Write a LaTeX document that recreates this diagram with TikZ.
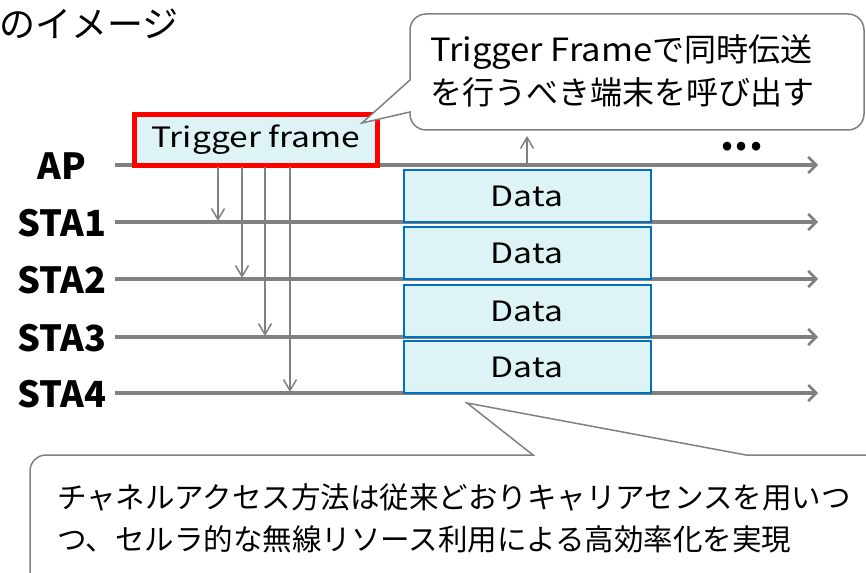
\documentclass[tikz,border=0pt]{standalone}
\usepackage{fontspec}
\setmainfont{Noto Sans CJK JP}
\newfontfamily\widefont{Noto Sans CJK JP}[FakeStretch=1.2]
\newfontfamily\midfont{Noto Sans CJK JP}[FakeStretch=1.08]
\usetikzlibrary{arrows.meta}
\definecolor{lgray}{RGB}{128,128,128}
\definecolor{dblue}{RGB}{0,112,192}
\definecolor{lcyan}{RGB}{222,243,246}
\tikzset{
  timeline/.style={draw=lgray,line width=4,-{Straight Barb[length=8,width=16,line width=2.5]}},
  sig/.style={draw=lgray,line width=2,-{Straight Barb[length=11,width=13,line width=1.5]}},
  databox/.style={draw=dblue,line width=2,fill=lcyan,minimum width=247,minimum height=52,inner sep=0,font=\widefont\fontsize{28}{30}\selectfont},
  trigbox/.style={draw=red,line width=4.5,fill=lcyan,minimum width=243,minimum height=51,inner sep=0,font=\widefont\fontsize{28}{30}\selectfont},
  lab/.style={font=\bfseries\fontsize{36}{40}\selectfont,inner sep=0},
  callout/.style={draw=lgray,line width=1.5,fill=white},
  ctext/.style={inner sep=0,anchor=west,align=left},
}
\begin{document}
\begin{tikzpicture}[x=1pt,y=-1pt]
\useasboundingbox (0,0) rectangle (866,572);
\clip (0,0) rectangle (866,572);
% title
\node[ctext,font=\fontsize{36}{38}\selectfont] (title) at (-1,24) {のイメージ};
% timelines
\foreach \n/\y/\t in {ap/165/AP,s1/222/STA1,s2/279/STA2,s3/337/STA3,s4/393/STA4}{
  \coordinate (\n L) at (115,\y);
  \coordinate (\n R) at (818,\y);
  \node[lab] (\n lab) at (62,\y+1) {\t};
  \draw[timeline] (\n L) -- (\n R);
}
% trigger frame
\node[trigbox] (tf) at (256,140) {Trigger frame};
% data boxes
\node[databox] (d1) at (527,196) {Data};
\node[databox] (d2) at (527,253) {Data};
\node[databox] (d3) at (527,311) {Data};
\node[databox] (d4) at (527,367) {Data};
% signals from trigger frame
\coordinate (t1) at (218,167); \coordinate (e1) at (218,221);
\coordinate (t2) at (242,167); \coordinate (e2) at (242,278);
\coordinate (t3) at (265,167); \coordinate (e3) at (265,336);
\coordinate (t4) at (290,167); \coordinate (e4) at (290,392);
\draw[sig] (t1) -- (e1);
\draw[sig] (t2) -- (e2);
\draw[sig] (t3) -- (e3);
\draw[sig] (t4) -- (e4);
% up arrow
\coordinate (ua) at (527,163); \coordinate (ub) at (527,136);
\draw[sig] (ua) -- (ub);
% callout 1
\draw[callout] (410,80) [rounded corners=16] -- (410,14) -- (864,14) -- (864,130) -- (410,130) [sharp corners] -- (410,112) -- (362,123) -- cycle;
\node[ctext,font=\fontsize{32}{43}\selectfont] (c1) at (430,71) {{\midfont Trigger Frame}で同時伝送\\を行うべき端末を呼び出す};
% dots
\node[font=\bfseries\fontsize{40}{40}\selectfont,inner sep=0,anchor=base] (dots) at (742,151) {...};
% callout 2
\draw[callout] (533,455) [rounded corners=16] -- (30,455) -- (30,600) -- (900,600) -- (900,455) [sharp corners] -- (746,455) -- (467,403) -- cycle;
\node[ctext,font=\fontsize{29.5}{42}\selectfont] (c2) at (57,518) {チャネルアクセス方法は従来どおりキャリアセンスを用いつ\\つ、セルラ的な無線リソース利用による高効率化を実現};
\end{tikzpicture}
\end{document}
